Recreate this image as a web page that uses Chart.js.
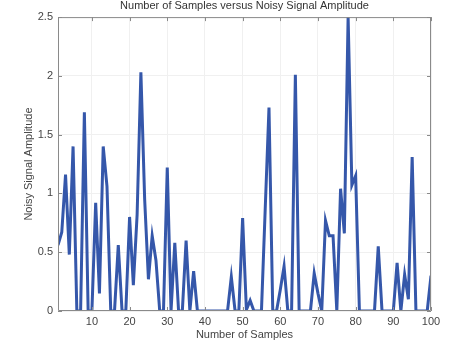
<!DOCTYPE html>
<html>
<head>
<meta charset="utf-8">
<script src="https://cdn.jsdelivr.net/npm/chart.js@4/dist/chart.umd.min.js"></script>
<style>
  html, body { margin: 0; padding: 0; background: #fff; }
  #wrap { width: 471px; height: 342px; position: relative; }
</style>
</head>
<body>
<div id="wrap"><canvas id="c" width="471" height="342"></canvas></div>
<script>
// samples 1..100 and the noisy amplitude
var samples = [];
for (var i = 1; i <= 100; i++) samples.push(i);

var amplitude = [
  0.56, 0.67, 1.16, 0.48, 1.40, 0, 0, 1.69, 0, 0,
  0.92, 0.15, 1.40, 1.06, 0, 0, 0.56, 0, 0, 0.80,
  0.22, 0.82, 2.03, 0.95, 0.27, 0.64, 0.43, 0, 0, 1.22,
  0, 0.58, 0, 0, 0.60, 0, 0.34, 0, 0, 0,
  0, 0, 0, 0, 0, 0, 0.29, 0, 0, 0.79,
  0.01, 0.09, 0, 0, 0, 0.87, 1.73, 0, 0, 0.18,
  0.38, 0, 0, 2.01, 0, 0, 0, 0, 0.32, 0.15,
  0, 0.77, 0.64, 0.64, 0, 1.04, 0.66, 2.5, 1.07, 1.15,
  0, 0, 0, 0, 0, 0.55, 0, 0, 0, 0,
  0.41, 0, 0.31, 0.10, 1.31, 0, 0, 0, 0, 0.30
];

var xTicks = [10, 20, 30, 40, 50, 60, 70, 80, 90, 100];
var yTicks = [0, 0.5, 1, 1.5, 2, 2.5];

var FONT = "'Liberation Sans', Arial, sans-serif";
var TXT = "#444";

// MATLAB-like box: top/right border and inward tick marks on all four sides
var boxPlugin = {
  id: "box",
  afterDraw: function (chart) {
    var ctx = chart.ctx, a = chart.chartArea;
    var xs = chart.scales.x, ys = chart.scales.y;
    ctx.save();
    ctx.strokeStyle = "#8a8a8a";
    ctx.lineWidth = 1;
    ctx.beginPath();
    ctx.rect(a.left + 0.5, a.top + 0.5, a.right - a.left - 1, a.bottom - a.top - 1);
    var L = 4;
    xTicks.forEach(function (v) {
      var px = Math.round(xs.getPixelForValue(v)) + 0.5;
      ctx.moveTo(px, a.bottom); ctx.lineTo(px, a.bottom - L);
      ctx.moveTo(px, a.top); ctx.lineTo(px, a.top + L);
    });
    yTicks.forEach(function (v) {
      var py = Math.round(ys.getPixelForValue(v)) + 0.5;
      ctx.moveTo(a.left, py); ctx.lineTo(a.left + L, py);
      ctx.moveTo(a.right, py); ctx.lineTo(a.right - L, py);
    });
    ctx.stroke();
    ctx.restore();
  }
};

new Chart(document.getElementById("c"), {
  type: "line",
  data: {
    labels: samples,
    datasets: [{
      data: samples.map(function (s, k) { return { x: s, y: amplitude[k] }; }),
      borderColor: "#3557aa",
      borderWidth: 3,
      pointRadius: 0,
      tension: 0,
      fill: false
    }]
  },
  options: {
    responsive: false,
    animation: false,
    layout: { padding: { left: 22, right: 40, top: 0, bottom: 0 } },
    plugins: {
      legend: { display: false },
      tooltip: { enabled: false },
      title: {
        display: true,
        fullSize: false,
        text: "Number of Samples versus Noisy Signal Amplitude",
        color: "#333",
        font: { family: FONT, size: 11, weight: "normal", lineHeight: 1.1 },
        padding: { top: 0, bottom: 5 }
      }
    },
    scales: {
      x: {
        type: "linear",
        min: 1,
        max: 100,
        afterBuildTicks: function (s) { s.ticks = xTicks.map(function (v) { return { value: v }; }); },
        afterFit: function (s) { s.height = 31; },
        grid: { color: "#f0f0f0", drawTicks: false },
        border: { display: false },
        ticks: { color: TXT, font: { family: FONT, size: 11 }, padding: 4, maxRotation: 0 },
        title: {
          display: true, text: "Number of Samples", color: TXT,
          font: { family: FONT, size: 11 }, padding: { top: 0, bottom: 0 }
        }
      },
      y: {
        min: 0,
        max: 2.5,
        afterBuildTicks: function (s) { s.ticks = yTicks.map(function (v) { return { value: v }; }); },
        afterFit: function (s) { s.width = 36; },
        grid: { color: "#f0f0f0", drawTicks: false },
        border: { display: false },
        ticks: {
          color: TXT, font: { family: FONT, size: 11 }, padding: 5,
          callback: function (v) { return String(v); }
        },
        title: {
          display: true, text: "Noisy Signal Amplitude", color: TXT,
          font: { family: FONT, size: 11 }, padding: { top: 0, bottom: 0 }
        }
      }
    }
  },
  plugins: [boxPlugin]
});
</script>
</body>
</html>
